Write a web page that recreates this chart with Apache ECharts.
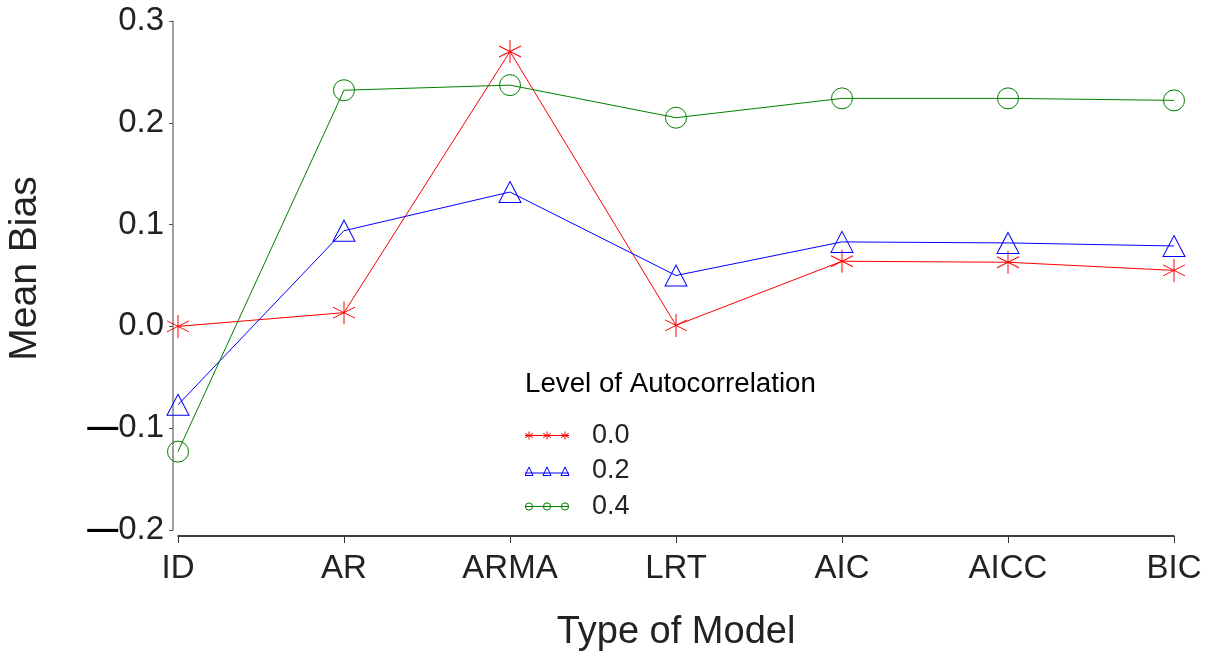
<!DOCTYPE html>
<html>
<head>
<meta charset="utf-8">
<title>Mean Bias by Type of Model</title>
<script src="https://cdn.jsdelivr.net/npm/echarts@6/dist/echarts.min.js"></script>
<style>
  html, body { margin: 0; padding: 0; background: #ffffff; }
  #chart { width: 1211px; height: 654px; }
</style>
</head>
<body>
<div id="chart"></div>
<script>
// Model types along the x axis
const categories = ['ID', 'AR', 'ARMA', 'LRT', 'AIC', 'AICC', 'BIC'];

// Mean bias for each level of autocorrelation
const bias00 = [0.000, 0.0135, 0.270, 0.001, 0.064, 0.063, 0.055];
const bias02 = [-0.077, 0.094, 0.132, 0.050, 0.083, 0.082, 0.079];
const bias04 = [-0.123, 0.232, 0.237, 0.205, 0.224, 0.224, 0.222];

// Legend entries (level of autocorrelation)
const levels = ['0.0', '0.2', '0.4'];

// Value axis range
const yMin = -0.2;
const yMax = 0.3;
const yStep = 0.1;

const FONT = '"Liberation Sans", Arial, Helvetica, sans-serif';
const RED = '#ff0000';
const BLUE = '#0000ff';
const GREEN = '#008000';

const asteriskPath = 'path://M11,0L11,23M0,6L22,17M0,17L22,6';

function svgIcon(body) {
  const svg = '<svg xmlns="http://www.w3.org/2000/svg" width="62" height="14" viewBox="0 0 62 14">' + body + '</svg>';
  return 'image://data:image/svg+xml;charset=utf-8,' + encodeURIComponent(svg);
}

function asteriskIcon(color) {
  let s = '<line x1="0" y1="7" x2="44" y2="7" stroke="' + color + '" stroke-width="1"/>';
  [4, 22, 40].forEach(function (cx) {
    s += '<path d="M' + cx + ',3L' + cx + ',11M' + (cx - 3.8) + ',5L' + (cx + 3.8) + ',9M' + (cx - 3.8) + ',9L' + (cx + 3.8) + ',5" stroke="' + color + '" stroke-width="1" fill="none"/>';
  });
  return svgIcon(s);
}

function triangleIcon(color) {
  let s = '<line x1="0" y1="9" x2="44" y2="9" stroke="' + color + '" stroke-width="1"/>';
  [4, 22, 40].forEach(function (cx) {
    s += '<path d="M' + cx + ',3L' + (cx - 4) + ',11.5L' + (cx + 4) + ',11.5Z" stroke="' + color + '" stroke-width="1" fill="none"/>';
  });
  return svgIcon(s);
}

function circleIcon(color) {
  let s = '<line x1="0" y1="7" x2="44" y2="7" stroke="' + color + '" stroke-width="1"/>';
  [4, 22, 40].forEach(function (cx) {
    s += '<circle cx="' + cx + '" cy="7" r="3.6" stroke="' + color + '" stroke-width="1" fill="none"/>';
  });
  return svgIcon(s);
}

function formatTick(v) {
  const r = Math.round(v * 10) / 10;
  if (r < 0) {
    return '{m|\u2014}' + Math.abs(r).toFixed(1);
  }
  return r.toFixed(1);
}

function makeSeries(name, data, color, symbol, size) {
  return {
    name: name,
    type: 'line',
    data: data,
    symbol: symbol,
    symbolSize: size,
    showSymbol: true,
    clip: false,
    lineStyle: { color: color, width: 1 },
    itemStyle: { color: 'none', borderColor: color, borderWidth: 1 },
    emphasis: { disabled: true }
  };
}

const chart = echarts.init(document.getElementById('chart'), null, { renderer: 'canvas' });

chart.setOption({
  animation: false,
  backgroundColor: '#ffffff',
  textStyle: { fontFamily: FONT },
  title: {
    text: 'Level of Autocorrelation',
    left: 519,
    top: 370,
    padding: [0, 6],
    textStyle: { fontFamily: FONT, fontSize: 27.7, fontWeight: 'normal', color: '#000000' }
  },
  legend: {
    orient: 'vertical',
    left: 525,
    top: 422,
    padding: 0,
    itemWidth: 62,
    itemHeight: 14,
    itemGap: 8.5,
    selectedMode: false,
    textStyle: { fontFamily: FONT, fontSize: 27, color: '#222222', lineHeight: 27 },
    data: [
      { name: levels[0], icon: asteriskIcon(RED) },
      { name: levels[1], icon: triangleIcon(BLUE) },
      { name: levels[2], icon: circleIcon(GREEN) }
    ]
  },
  grid: {
    left: 178,
    right: 37,
    top: 21,
    bottom: 124,
    containLabel: false,
    outerBoundsMode: 'none'
  },
  xAxis: {
    type: 'category',
    data: categories,
    boundaryGap: false,
    offset: 6,
    name: 'Type of Model',
    nameLocation: 'middle',
    nameGap: 78,
    nameTextStyle: { fontFamily: FONT, fontSize: 38, color: '#222222' },
    axisLine: { show: true, onZero: false, lineStyle: { color: '#000000', width: 1.5 } },
    axisTick: { show: true, alignWithLabel: true, length: 7, lineStyle: { color: '#333333', width: 1 } },
    axisLabel: { margin: 16, fontFamily: FONT, fontSize: 33, color: '#222222' },
    splitLine: { show: false }
  },
  yAxis: {
    type: 'value',
    min: yMin,
    max: yMax,
    interval: yStep,
    offset: 5,
    name: 'Mean Bias',
    nameLocation: 'middle',
    nameRotate: 90,
    nameGap: 128,
    nameTextStyle: { fontFamily: FONT, fontSize: 39, color: '#222222', padding: [0, 0, 0, 14] },
    axisLine: { show: true, onZero: false, lineStyle: { color: '#808080', width: 1.5 } },
    axisTick: { show: true, length: 4, lineStyle: { color: '#555555', width: 1 } },
    axisLabel: {
      margin: 9,
      fontFamily: FONT,
      fontSize: 33,
      color: '#222222',
      formatter: formatTick,
      rich: {
        m: { fontFamily: FONT, fontSize: 31, fontWeight: 'bold', color: '#000000' }
      }
    },
    splitLine: { show: false }
  },
  series: [
    makeSeries(levels[0], bias00, RED, asteriskPath, [22, 23]),
    makeSeries(levels[1], bias02, BLUE, 'triangle', [22, 21]),
    makeSeries(levels[2], bias04, GREEN, 'circle', 21)
  ]
});
</script>
</body>
</html>
